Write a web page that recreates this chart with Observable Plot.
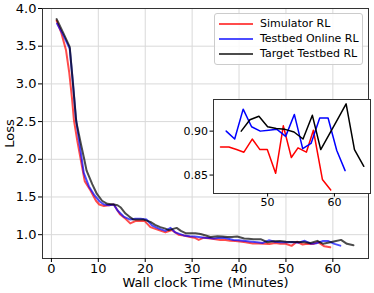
<!DOCTYPE html>
<html><head><meta charset="utf-8">
<script src="https://cdn.jsdelivr.net/npm/d3@7"></script>
<script src="https://cdn.jsdelivr.net/npm/@observablehq/plot@0.6"></script>
<style>
body{margin:0;background:#fff;font-family:"DejaVu Sans",sans-serif;}
#wrap{position:relative;width:374px;height:293px;overflow:hidden;}
#inset{position:absolute;left:173px;top:96.5px;}
#legend{position:absolute;left:214px;top:13px;width:149px;height:52px;box-sizing:border-box;border:1px solid #cccccc;border-radius:3px;background:rgba(255,255,255,0.85);}
.lrow{position:absolute;left:0;height:14px;width:100%;}
.lline{position:absolute;left:4px;top:6px;width:34px;height:2px;}
.ltext{position:absolute;left:45px;top:0;font-size:11px;line-height:14px;color:#000;white-space:nowrap;}
</style></head><body><div id="wrap"><div id="main"></div><div id="inset"></div><div id="legend"></div></div>
<script>
// Series names and colors
const seriesNames = ["Simulator RL", "Testbed Online RL", "Target Testbed RL"];
const seriesColors = ["#ff0000", "#0000ff", "#000000"];

// Simulator RL
const simT = [1.1,2.1,3.1,3.8,4.4,4.8,5.5,6.3,7.1,8.3,9.5,10.2,11.2,12.2,13.3,14.6,15.8,16.8,17.9,18.9,19.9,21.1,22.0,22.9,24.3,25.7,27.1,28.2,29.6,30.5,31.4,32.5,33.9,35.0,36.0,37.1,38.1,39.2,40.2,41.4,42.95,44.2,45.35,46.45,47.7,48.85,49.95,51.2,52.35,53.55,54.55,55.8,56.85,58.2,59.45];
const simL = [3.84,3.68,3.45,3.15,2.80,2.52,2.25,1.98,1.71,1.59,1.45,1.40,1.38,1.39,1.40,1.27,1.21,1.15,1.18,1.18,1.18,1.10,1.08,1.06,1.03,1.06,1.00,0.99,0.97,0.96,0.93,0.96,0.95,0.94,0.93,0.93,0.92,0.915,0.91,0.90,0.882,0.882,0.879,0.876,0.891,0.879,0.879,0.852,0.906,0.870,0.881,0.876,0.901,0.845,0.833];

// Testbed Online RL
const onT = [1.2,2.5,3.9,4.6,5.2,6.0,6.9,8.0,9.2,10.3,11.2,12.3,13.3,14.1,15.4,16.8,17.9,19.0,20.3,21.5,22.9,24.3,25.4,26.4,27.3,28.2,29.5,30.5,31.4,32.6,33.6,34.6,35.6,36.7,37.7,38.8,39.8,40.9,42.3,43.8,45.07,46.34,47.6,48.9,50.15,51.4,52.7,54.0,55.25,56.5,57.8,59.05,60.35,61.6];
const onL = [3.80,3.65,3.47,3.0,2.55,2.2,1.82,1.64,1.52,1.44,1.40,1.39,1.40,1.32,1.24,1.20,1.21,1.21,1.20,1.12,1.08,1.05,1.09,1.03,1.01,0.99,0.98,0.975,0.97,0.96,0.955,0.95,0.955,0.96,0.945,0.93,0.925,0.92,0.91,0.900,0.891,0.925,0.905,0.900,0.901,0.902,0.894,0.919,0.880,0.886,0.915,0.915,0.878,0.855];

// Target Testbed RL
const tgtT = [1.1,2.5,3.9,4.6,5.3,6.3,7.0,7.5,8.7,9.7,10.8,11.9,13.3,14.1,14.8,15.8,16.6,17.5,18.6,19.7,21.1,22.1,23.2,24.3,25.0,26.7,27.6,28.6,29.6,30.7,31.8,32.9,33.9,35.4,36.4,37.5,38.5,39.6,41.1,42.0,43.1,44.6,46.05,47.35,48.7,50.0,51.3,52.6,53.95,55.3,56.7,57.95,59.2,60.45,61.75,63.0,64.4];
const tgtL = [3.86,3.68,3.49,3.0,2.50,2.2,2.0,1.85,1.67,1.54,1.45,1.41,1.40,1.39,1.36,1.28,1.24,1.20,1.20,1.20,1.17,1.13,1.10,1.08,1.06,1.09,1.05,1.02,1.02,1.02,1.01,0.99,0.97,0.98,0.975,0.97,0.97,0.976,0.95,0.945,0.94,0.94,0.900,0.913,0.917,0.905,0.903,0.902,0.899,0.891,0.918,0.879,0.896,0.913,0.931,0.879,0.860];

// Tick labels
const xTicks = [0,10,20,30,40,50,60];
const yTicks = [1.0,1.5,2.0,2.5,3.0,3.5,4.0];
const insetXTicks = [50,60];
const insetYTicks = [0.85,0.90];
const xLabel = "Wall clock Time (Minutes)";
const yLabel = "Loss";
const insetPoints = 15;

const allT = [simT, onT, tgtT];
const allL = [simL, onL, tgtL];
const series = allT.map((T, s) => T.map((t, i) => ({series: seriesNames[s], t, loss: allL[s][i]})));

const main = Plot.plot({
  width: 374, height: 293,
  marginLeft: 42, marginRight: 6, marginTop: 8, marginBottom: 35,
  x: {domain: [-1.9, 67.6]},
  y: {domain: [0.684, 4.0]},
  style: {fontFamily: "DejaVu Sans", fontSize: "13px", background: "transparent", color: "#000"},
  marks: [
    Plot.gridX(xTicks, {stroke: "#d9d9d9", strokeOpacity: 1, strokeWidth: 1}),
    Plot.gridY(yTicks, {stroke: "#d9d9d9", strokeOpacity: 1, strokeWidth: 1}),
    ...series.map((d, s) => Plot.line(d, {x: "t", y: "loss", stroke: seriesColors[s], strokeOpacity: 0.7, strokeWidth: 2})),
    Plot.frame({stroke: "#333"}),
    Plot.axisX(xTicks, {tickSize: 4, tickPadding: 1, label: null}),
    Plot.axisY(yTicks, {tickSize: 4, tickPadding: 2, tickFormat: d => d.toFixed(1), label: null}),
    Plot.text([yLabel], {text: d => d, frameAnchor: "left", dx: -33, rotate: -90, fontSize: 13, textAnchor: "middle", lineAnchor: "middle"}),
    Plot.text([xLabel], {text: d => d, frameAnchor: "bottom", dy: 24, fontSize: 13, textAnchor: "middle", lineAnchor: "middle"})
  ]
});
document.getElementById("main").appendChild(main);

const inset = Plot.plot({
  width: 201, height: 116,
  marginLeft: 40, marginRight: 4, marginTop: 2, marginBottom: 20,
  x: {domain: [41.9, 65.4]},
  y: {domain: [0.829, 0.936]},
  style: {fontFamily: "DejaVu Sans", fontSize: "11px", background: "transparent", color: "#000"},
  marks: [
    Plot.frame({fill: "white", stroke: "none"}),
    ...series.map((d, s) => Plot.line(d.slice(-insetPoints), {x: "t", y: "loss", stroke: seriesColors[s], strokeWidth: 1.5})),
    Plot.frame({stroke: "#333"}),
    Plot.axisX(insetXTicks, {tickSize: 3.5, tickPadding: 1, label: null}),
    Plot.axisY(insetYTicks, {tickSize: 3.5, tickPadding: 2, tickFormat: d => d.toFixed(2), label: null})
  ]
});
document.getElementById("inset").appendChild(inset);

const legend = document.getElementById("legend");
const rowCenters = [10, 25, 40];
seriesNames.forEach((name, i) => {
  const row = document.createElement("div");
  row.className = "lrow";
  row.style.top = (rowCenters[i] - 7) + "px";
  const line = document.createElement("div");
  line.className = "lline";
  line.style.background = seriesColors[i];
  line.style.opacity = 0.7;
  const txt = document.createElement("div");
  txt.className = "ltext";
  txt.textContent = name;
  row.appendChild(line); row.appendChild(txt);
  legend.appendChild(row);
});
</script>
</body></html>
